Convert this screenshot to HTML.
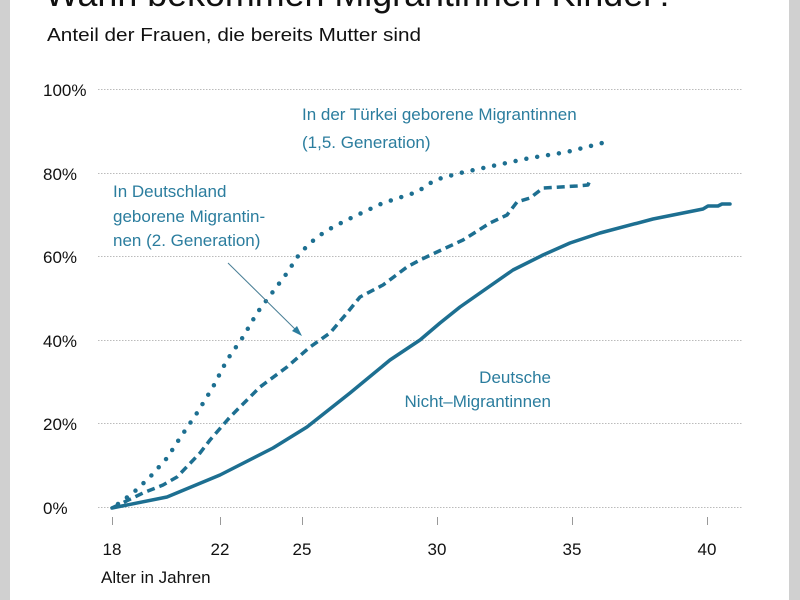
<!DOCTYPE html>
<html><head><meta charset="utf-8"><style>
html,body{margin:0;padding:0;background:#fff}
svg{display:block}
text{font-family:"Liberation Sans",Arial,sans-serif}
</style></head><body>
<svg width="800" height="600" viewBox="0 0 800 600" xmlns="http://www.w3.org/2000/svg">
<rect width="800" height="600" fill="#fff"/>
<rect x="0" y="0" width="10" height="600" fill="#d0d0d0"/>
<rect x="789" y="0" width="11" height="600" fill="#d0d0d0"/>
<text x="45" y="6" font-size="36" fill="#111" textLength="630" lengthAdjust="spacingAndGlyphs">Wann bekommen Migrantinnen Kinder?</text>
<text x="47" y="41" font-size="18" fill="#111" textLength="374" lengthAdjust="spacingAndGlyphs">Anteil der Frauen, die bereits Mutter sind</text>
<g stroke="#bbb" stroke-width="1" stroke-dasharray="1.5,1.5">
<line x1="98" y1="89.5" x2="742" y2="89.5"/>
<line x1="98" y1="173.5" x2="742" y2="173.5"/>
<line x1="98" y1="256.5" x2="742" y2="256.5"/>
<line x1="98" y1="340.5" x2="742" y2="340.5"/>
<line x1="98" y1="423.5" x2="742" y2="423.5"/>
<line x1="98" y1="507.5" x2="742" y2="507.5"/>
</g>
<g font-size="17" fill="#111">
<text x="43" y="96">100%</text>
<text x="43" y="180">80%</text>
<text x="43" y="263">60%</text>
<text x="43" y="347">40%</text>
<text x="43" y="430">20%</text>
<text x="43" y="514">0%</text>
</g>
<g stroke="#999" stroke-width="1">
<line x1="112.5" y1="517" x2="112.5" y2="525"/>
<line x1="220.5" y1="517" x2="220.5" y2="525"/>
<line x1="302.5" y1="517" x2="302.5" y2="525"/>
<line x1="437.5" y1="517" x2="437.5" y2="525"/>
<line x1="572.5" y1="517" x2="572.5" y2="525"/>
<line x1="707.5" y1="517" x2="707.5" y2="525"/>
</g>
<g font-size="17" fill="#111" text-anchor="middle">
<text x="112" y="555">18</text>
<text x="220" y="555">22</text>
<text x="302" y="555">25</text>
<text x="437" y="555">30</text>
<text x="572" y="555">35</text>
<text x="707" y="555">40</text>
</g>
<text x="101" y="583" font-size="17" fill="#111">Alter in Jahren</text>
<g fill="none" stroke="#1d6f91" stroke-linecap="round" stroke-linejoin="round">
<polyline stroke-width="3.5" points="112,508 167,497 220,475 273,448 307,427 350,393 390,360 420,340 440,323 460,307 513,270 543,255 570,243 600,233 653,219 703,209 708,206 718,206 722,204 730,204"/>
<polyline stroke-width="3.5" stroke-dasharray="8,5" stroke-linecap="butt" points="112,508 143,493 163,485 177,477 200,453 210,440 230,417 260,387 287,367 310,347 330,333 347,313 360,297 383,285 407,267 420,260 437,252 463,240 490,223 507,215 517,202 530,198 543,188 577,186 588,185 590,180"/>
<polyline stroke-width="4.5" stroke-dasharray="0,11" points="118,504 133,493 150,477 167,458 180,438 197,413 213,387 227,360 243,337 257,313 272,293 287,273 300,253 317,237 333,227 353,217 383,203 417,192 435,180 460,173 497,165 530,158 567,152 610,141"/>
</g>
<g font-size="17" fill="#2b7d9e">
<text x="302" y="120">In der Türkei geborene Migrantinnen</text>
<text x="302" y="148">(1,5. Generation)</text>
<text x="113" y="197">In Deutschland</text>
<text x="113" y="222">geborene Migrantin-</text>
<text x="113" y="246">nen (2. Generation)</text>
<text x="551" y="383" text-anchor="end">Deutsche</text>
<text x="551" y="407" text-anchor="end">Nicht–Migrantinnen</text>
</g>
<line x1="228" y1="263" x2="298" y2="332" stroke="#4a7f96" stroke-width="1"/>
<polygon points="302,336 292,331 297,326" fill="#2b7d9e"/>
</svg>
</body></html>
